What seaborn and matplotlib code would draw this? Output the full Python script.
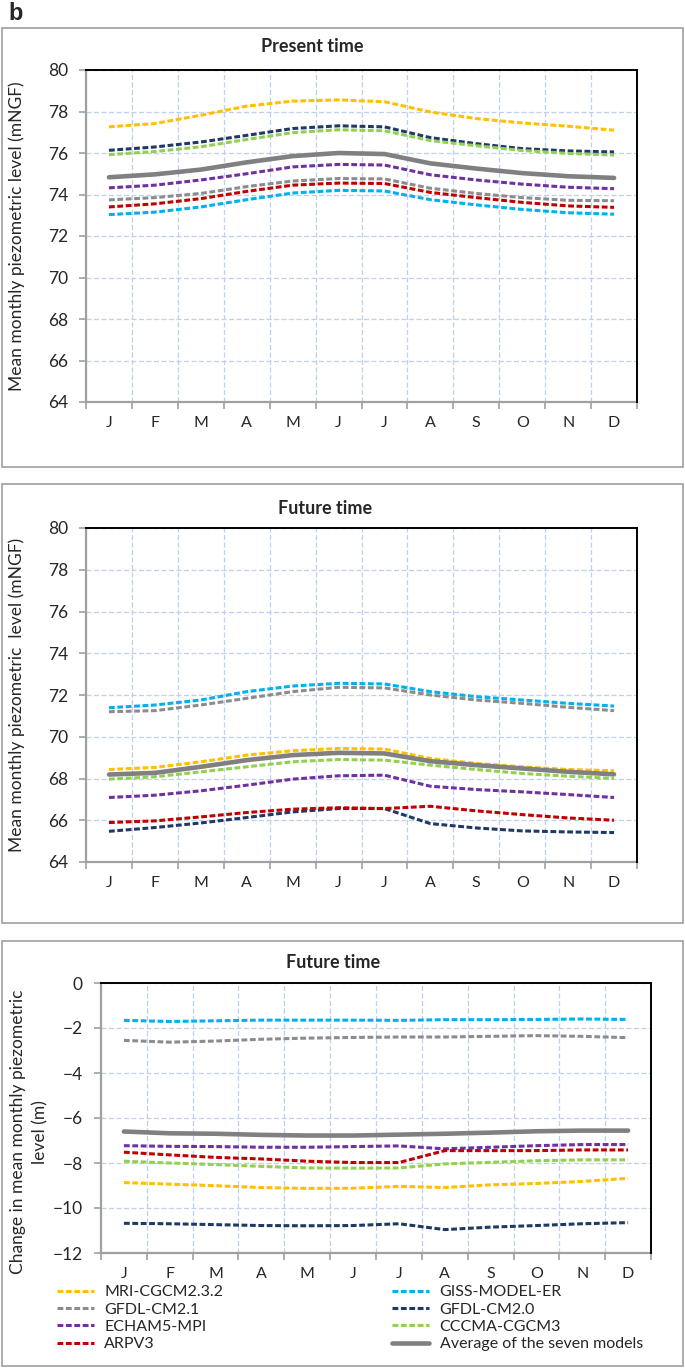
import numpy as np
import pandas as pd
import matplotlib
matplotlib.use("Agg")
import matplotlib.pyplot as plt
import matplotlib.patches as mpatches
from matplotlib.lines import Line2D
import seaborn as sns

# ---------------------------------------------------------
# data
# ---------------------------------------------------------
months = ["J", "F", "M", "A", "M", "J", "J", "A", "S", "O", "N", "D"]

models = ["MRI-CGCM2.3.2", "GISS-MODEL-ER", "GFDL-CM2.1", "GFDL-CM2.0",
          "ECHAM5-MPI", "CCCMA-CGCM3", "ARPV3", "Average of the seven models"]
colors = ["#FFC000", "#00B0F0", "#8C8C8C", "#1F3864",
          "#7030A0", "#92D050", "#C00000", "#808080"]

# present time (mNGF)
mri_p = [77.26, 77.42, 77.82, 78.26, 78.50, 78.56, 78.47, 77.98, 77.66, 77.45, 77.29, 77.10]
giss_p = [73.03, 73.15, 73.40, 73.75, 74.07, 74.20, 74.17, 73.75, 73.50, 73.28, 73.12, 73.05]
gfdl21_p = [73.74, 73.85, 74.05, 74.38, 74.65, 74.77, 74.75, 74.30, 74.05, 73.85, 73.72, 73.70]
gfdl20_p = [76.13, 76.29, 76.53, 76.85, 77.18, 77.31, 77.26, 76.74, 76.45, 76.21, 76.10, 76.05]
echam_p = [74.32, 74.45, 74.70, 75.00, 75.33, 75.45, 75.42, 74.95, 74.70, 74.50, 74.35, 74.28]
cccma_p = [75.92, 76.07, 76.30, 76.65, 76.98, 77.12, 77.07, 76.60, 76.35, 76.12, 75.98, 75.90]
arpv_p = [73.40, 73.55, 73.80, 74.15, 74.45, 74.55, 74.53, 74.10, 73.85, 73.62, 73.45, 73.38]
avg_p = [74.83, 74.97, 75.20, 75.55, 75.85, 76.00, 75.95, 75.50, 75.25, 75.03, 74.88, 74.80]

# future time (mNGF)
mri_f = [68.43, 68.53, 68.80, 69.12, 69.33, 69.44, 69.41, 68.96, 68.72, 68.56, 68.43, 68.37]
giss_f = [71.39, 71.52, 71.76, 72.16, 72.43, 72.56, 72.53, 72.16, 71.92, 71.76, 71.60, 71.47]
gfdl21_f = [71.20, 71.25, 71.52, 71.84, 72.16, 72.37, 72.34, 72.00, 71.76, 71.60, 71.41, 71.25]
gfdl20_f = [65.47, 65.65, 65.87, 66.13, 66.40, 66.56, 66.56, 65.84, 65.63, 65.49, 65.44, 65.41]
echam_f = [67.09, 67.20, 67.41, 67.68, 67.97, 68.13, 68.16, 67.63, 67.47, 67.36, 67.23, 67.09]
cccma_f = [67.97, 68.08, 68.32, 68.56, 68.80, 68.91, 68.88, 68.64, 68.43, 68.24, 68.11, 68.00]
arpv_f = [65.89, 65.97, 66.16, 66.37, 66.53, 66.60, 66.56, 66.67, 66.45, 66.27, 66.11, 66.00]
avg_f = [68.19, 68.27, 68.56, 68.88, 69.12, 69.23, 69.20, 68.83, 68.64, 68.48, 68.32, 68.20]

# change (m)
mri_c = [-8.87, -8.94, -9.01, -9.09, -9.13, -9.12, -9.04, -9.09, -8.97, -8.91, -8.82, -8.68]
giss_c = [-1.66, -1.71, -1.68, -1.65, -1.65, -1.65, -1.66, -1.63, -1.63, -1.62, -1.60, -1.62]
gfdl21_c = [-2.55, -2.63, -2.58, -2.50, -2.45, -2.42, -2.40, -2.40, -2.37, -2.34, -2.37, -2.43]
gfdl20_c = [-10.68, -10.70, -10.74, -10.78, -10.79, -10.78, -10.70, -10.96, -10.85, -10.78, -10.70, -10.65]
echam_c = [-7.23, -7.26, -7.27, -7.30, -7.30, -7.27, -7.24, -7.37, -7.30, -7.23, -7.18, -7.18]
cccma_c = [-7.92, -8.00, -8.07, -8.15, -8.22, -8.23, -8.22, -8.04, -7.97, -7.90, -7.86, -7.86]
arpv_c = [-7.52, -7.64, -7.75, -7.82, -7.92, -7.98, -7.98, -7.45, -7.45, -7.45, -7.42, -7.42]
avg_c = [-6.60, -6.68, -6.70, -6.75, -6.78, -6.78, -6.74, -6.70, -6.65, -6.59, -6.56, -6.56]

present = [mri_p, giss_p, gfdl21_p, gfdl20_p, echam_p, cccma_p, arpv_p, avg_p]
future = [mri_f, giss_f, gfdl21_f, gfdl20_f, echam_f, cccma_f, arpv_f, avg_f]
change = [mri_c, giss_c, gfdl21_c, gfdl20_c, echam_c, cccma_c, arpv_c, avg_c]

# ---------------------------------------------------------
# style
# ---------------------------------------------------------
sns.set_style("white")
plt.rcParams["font.family"] = ["Lato", "DejaVu Sans"]

W, H = 685, 1368
fig = plt.figure(figsize=(W / 100, H / 100), dpi=100)


def fx(px):
    return px / W


def fy(py):
    return 1 - py / H


def add_axes(left, top, right, bottom):
    return fig.add_axes([fx(left), fy(bottom), fx(right - left), (bottom - top) / H])


GRID = "#BFD0EE"
AXIS = "#A0A0A0"
DASH = (0, (1.9, 0.85))
LW = 2.2
LW_AVG = 3.3


def draw_panel(ax, series, ymin, ymax):
    x = np.arange(len(months))
    for vals, name, col in zip(series, models, colors):
        df = pd.DataFrame({"month": x, "value": vals})
        if name.startswith("Average"):
            sns.lineplot(data=df, x="month", y="value", ax=ax, color=col,
                         lw=LW_AVG, zorder=5)
        else:
            sns.lineplot(data=df, x="month", y="value", ax=ax, color=col,
                         lw=LW, linestyle=DASH, zorder=4)
    ax.set_xlim(-0.5, 11.5)
    ax.set_ylim(ymin, ymax)
    ax.set_xlabel("")
    ax.set_ylabel("")
    ax.set_xticks(np.arange(-0.5, 12, 1))
    ax.set_xticklabels([])
    ax.set_xticks(x, minor=True)
    ax.set_xticklabels(months, minor=True)
    ax.set_yticks(np.arange(ymin, ymax + 1, 2))
    ax.tick_params(axis="x", which="major", direction="out", length=5,
                   width=1.2, color=AXIS, bottom=True)
    ax.tick_params(axis="x", which="minor", length=0, pad=10, labelsize=11.5)
    ax.tick_params(axis="y", direction="out", length=5, width=1.2,
                   color=AXIS, left=True, pad=8, labelsize=12.5)
    ax.grid(True, which="major", color=GRID, linestyle=(0, (4, 2)), lw=0.9)
    ax.set_axisbelow(True)
    for s in ["left", "bottom"]:
        ax.spines[s].set_color(AXIS)
        ax.spines[s].set_linewidth(1.6)
    for s in ["top", "right"]:
        ax.spines[s].set_color("black")
        ax.spines[s].set_linewidth(1.4)
        ax.spines[s].set_zorder(6)


# panel frames
for top, bottom in [(28, 467), (484, 923), (941, 1366)]:
    fig.add_artist(mpatches.Rectangle((fx(2), fy(bottom)), fx(681), (bottom - top) / H,
                                      transform=fig.transFigure, fill=False,
                                      edgecolor="#A6A6A6", lw=1.3))

fig.text(fx(8), fy(20), "b", fontsize=17, fontweight="bold",
         family="Liberation Sans", va="baseline", ha="left")

ax1 = add_axes(86, 70, 637, 402)
draw_panel(ax1, present, 64, 80)
fig.text(fx(312), fy(46), "Present time", fontsize=13, fontweight="bold",
         ha="center", va="center")
fig.text(fx(17), fy(236), "Mean monthly piezometric level (mNGF)", rotation=90,
         fontsize=12.5, ha="center", va="center")

ax2 = add_axes(86, 528, 637, 862)
draw_panel(ax2, future, 64, 80)
fig.text(fx(325), fy(508), "Future time", fontsize=13, fontweight="bold",
         ha="center", va="center")
fig.text(fx(17), fy(695), "Mean monthly piezometric  level (mNGF)", rotation=90,
         fontsize=12.5, ha="center", va="center")

ax3 = add_axes(101, 983, 651, 1253)
draw_panel(ax3, change, -12, 0)
fig.text(fx(333), fy(962), "Future time", fontsize=13, fontweight="bold",
         ha="center", va="center")
fig.text(fx(29), fy(1132), "Change in mean monthly piezometric\nlevel (m)",
         rotation=90, fontsize=12.5, ha="center", va="center", linespacing=1.45,
         multialignment="center")

# legend (row-wise order like the original -> reorder for column filling)
handles = []
for name, col in zip(models, colors):
    if name.startswith("Average"):
        handles.append(Line2D([], [], color=col, lw=LW_AVG, label=name))
    else:
        handles.append(Line2D([], [], color=col, lw=LW, linestyle=DASH, label=name))
order = [0, 2, 4, 6, 1, 3, 5, 7]
fig.legend([handles[i] for i in order], [models[i] for i in order],
           loc="upper left", bbox_to_anchor=(fx(57), fy(1285)), ncol=2,
           frameon=False, fontsize=11.5, handlelength=2.3, handletextpad=0.65,
           labelspacing=0.2, columnspacing=10.6, borderpad=0, borderaxespad=0)

fig.savefig("out.png", dpi=100)
